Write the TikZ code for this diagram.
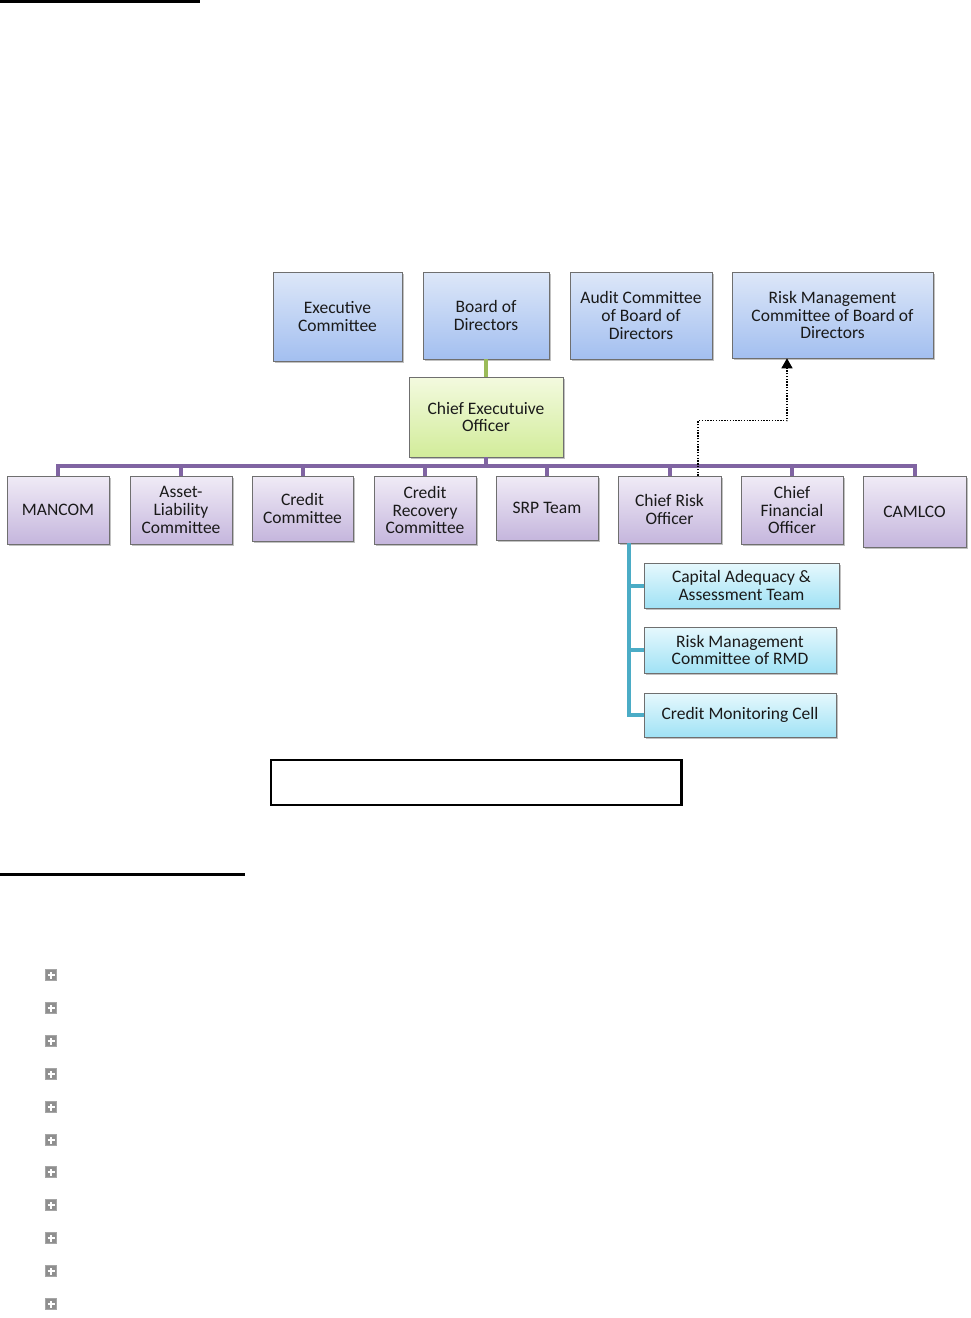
\documentclass[tikz,border=0pt]{standalone}
\usepackage{fontspec}
\setmainfont{Carlito}
\usetikzlibrary{shadows,arrows.meta}
\definecolor{bluetop}{HTML}{DDE7F8}
\definecolor{bluebot}{HTML}{A3BFF0}
\definecolor{greentop}{HTML}{F3FADF}
\definecolor{greenbot}{HTML}{D2EC9A}
\definecolor{purptop}{HTML}{F0EBF6}
\definecolor{purpbot}{HTML}{C5B6DD}
\definecolor{cyantop}{HTML}{E6F8FD}
\definecolor{cyanbot}{HTML}{A0E2F5}
\definecolor{boxline}{HTML}{6F6F6F}
\definecolor{buscol}{HTML}{8064A2}
\definecolor{tealcol}{HTML}{4BACC6}
\definecolor{greencol}{HTML}{9BBB59}
\definecolor{plusgray}{HTML}{8F8F8F}
\definecolor{textcol}{HTML}{1A1A1A}
\begin{document}
\begin{tikzpicture}[x=1pt,y=-1pt,
  box/.style={draw=boxline, line width=0.6pt, align=center, inner sep=1pt, text=textcol,
    font=\fontsize{17.5}{17.6}\selectfont,
    drop shadow={shadow xshift=1.5pt, shadow yshift=-2pt, opacity=0.35, fill=black!70}},
  bluebox/.style={box, top color=bluetop, bottom color=bluebot},
  greenbox/.style={box, top color=greentop, bottom color=greenbot},
  purpbox/.style={box, top color=purptop, bottom color=purpbot},
  cyanbox/.style={box, top color=cyantop, bottom color=cyanbot},
  bus/.style={draw=buscol, line width=4pt},
  tealline/.style={draw=tealcol, line width=4pt},
  greenline/.style={draw=greencol, line width=4pt},
  dotline/.style={draw=black, line width=1.4pt, dash pattern=on 1.4pt off 1.4pt,
    -{Triangle[width=11pt,length=10pt]}},
  plusbox/.style={draw=gray!70, fill=plusgray, minimum width=11pt, minimum height=11pt, inner sep=0pt}
]
\useasboundingbox (0,0) rectangle (971,1318);
\fill[black] (0,0) rectangle (200,2.5);
\fill[black] (0,873) rectangle (245,876);

% top row
\node[bluebox, minimum width=129, minimum height=89] (exec) at (337.5,316.5) {Executive\\Committee};
\node[bluebox, minimum width=126, minimum height=87] (board) at (486,315.5) {Board of\\Directors};
\node[bluebox, minimum width=142, minimum height=87] (audit) at (641,315.5) {Audit Committee\\of Board of\\Directors};
\node[bluebox, minimum width=201, minimum height=86] (rmc) at (832.5,315) {Risk Management\\Committee of Board of\\Directors};
\node[greenbox, minimum width=154, minimum height=80] (ceo) at (486,417) {Chief Executuive\\Officer};

% bottom row
\node[purpbox, minimum width=102, minimum height=68] (mancom) at (58,510) {MANCOM};
\node[purpbox, minimum width=102, minimum height=68] (alco) at (181,510) {Asset-\\Liability\\Committee};
\node[purpbox, minimum width=101, minimum height=65] (cc) at (302.5,508.5) {Credit\\Committee};
\node[purpbox, minimum width=102, minimum height=68] (crc) at (425,510) {Credit\\Recovery\\Committee};
\node[purpbox, minimum width=102, minimum height=64] (srp) at (547,508) {SRP Team};
\node[purpbox, minimum width=103, minimum height=67] (cro) at (669.5,509.5) {Chief Risk\\Officer};
\node[purpbox, minimum width=102, minimum height=68] (cfo) at (792,510) {Chief\\Financial\\Officer};
\node[purpbox, minimum width=103, minimum height=71] (camlco) at (914.5,511.5) {CAMLCO};

% sub boxes
\node[cyanbox, minimum width=195, minimum height=45] (cap) at (741.5,585.5) {Capital Adequacy \&\\Assessment Team};
\node[cyanbox, minimum width=192, minimum height=46] (rmd) at (740,650) {Risk Management\\Committee of RMD};
\node[cyanbox, minimum width=192, minimum height=44] (cmc) at (740,715) {Credit Monitoring Cell};

% connectors
\coordinate (busy) at (0,466);
\draw[greenline] (board.south) -- (ceo.north);
\draw[bus] (mancom.north) -- (mancom.north |- busy) -- (camlco.north |- busy) -- (camlco.north);
\draw[bus] (ceo.south) -- (ceo.south |- busy);
\foreach \n in {alco,cc,crc,srp,cro,cfo}
  \draw[bus] (\n.north) -- (\n.north |- busy);
\coordinate (tealtop) at ([xshift=11pt]cro.south west);
\draw[tealline] (tealtop) |- (cmc.west);
\draw[tealline] (cap.west) -- (cap.west -| tealtop);
\draw[tealline] (rmd.west) -- (rmd.west -| tealtop);
\draw[dotline] ([xshift=28.5pt]cro.north) -- ++(0,-55) -| ([xshift=-45.5pt]rmc.south);

% empty caption box
\node[draw=black, line width=1.2pt, minimum width=410, minimum height=45, inner sep=0pt] (caption) at (476,782.5) {};
\draw[black, line width=1.5pt] ([xshift=1pt]caption.north east) -- ([xshift=1pt]caption.south east);

% plus icons
\foreach \yy [count=\i] in {975,1008,1041,1074,1107,1140,1172,1205,1238,1271,1304} {
  \node[plusbox] (p\i) at (51,\yy) {};
  \draw[white, line width=1.6pt] ([xshift=-3.5pt]p\i.center) -- ([xshift=3.5pt]p\i.center);
  \draw[white, line width=1.6pt] ([yshift=-3.5pt]p\i.center) -- ([yshift=3.5pt]p\i.center);
}
\end{tikzpicture}
\end{document}
